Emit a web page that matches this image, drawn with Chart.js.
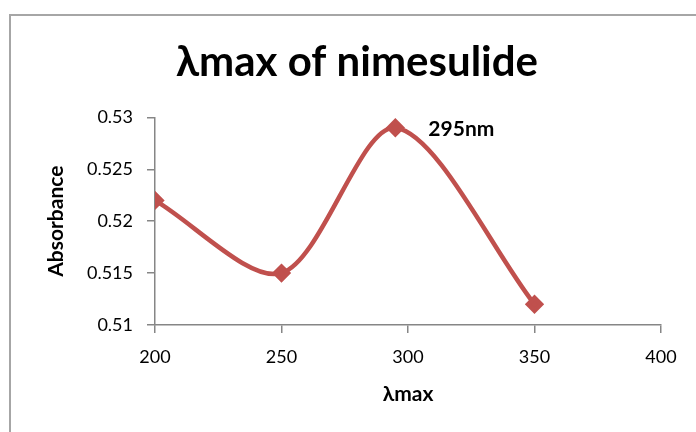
<!DOCTYPE html>
<html>
<head>
<meta charset="utf-8">
<script src="https://cdn.jsdelivr.net/npm/chart.js@4"></script>
<style>
  html, body { margin: 0; padding: 0; background: #fff; }
  #wrap { width: 696px; height: 432px; }
</style>
</head>
<body>
<div id="wrap"><canvas id="chart" width="696" height="432"></canvas></div>
<script>
// Longueurs d'onde et absorbances mesurées
const wavelengths = [200, 250, 295, 350];
const absorbance = [0.522, 0.515, 0.529, 0.512];
const peakLabel = "295nm";
const yTicks = [0.51, 0.515, 0.52, 0.525, 0.53];
const xTicks = [200, 250, 300, 350, 400];

const lineColor = "#C0504D";
const axisColor = "#868686";
const fontFamily = "Lato, 'Open Sans', 'DejaVu Sans', sans-serif";

// Cadre gris autour du graphique
const framePlugin = {
    id: "frame",
    beforeDraw(chart) {
        const ctx = chart.ctx;
        ctx.save();
        ctx.strokeStyle = "#A6A6A6";
        ctx.lineWidth = 2;
        ctx.beginPath();
        ctx.moveTo(10, chart.height);
        ctx.lineTo(10, 15);
        ctx.lineTo(chart.width, 15);
        ctx.stroke();
        ctx.restore();
    }
};

// Étiquette du maximum d'absorbance
const peakPlugin = {
    id: "peakLabel",
    afterDatasetsDraw(chart) {
        const meta = chart.getDatasetMeta(0);
        const idx = absorbance.indexOf(Math.max(...absorbance));
        const pt = meta.data[idx];
        const ctx = chart.ctx;
        ctx.save();
        ctx.font = "bold 21px " + fontFamily;
        ctx.fillStyle = "#000";
        ctx.textBaseline = "middle";
        ctx.textAlign = "left";
        ctx.fillText(peakLabel, pt.x + 33, pt.y + 1);
        ctx.restore();
    }
};

const ctx = document.getElementById("chart").getContext("2d");
new Chart(ctx, {
    type: "scatter",
    data: {
        datasets: [{
            data: wavelengths.map((w, i) => ({ x: w, y: absorbance[i] })),
            showLine: true,
            borderColor: lineColor,
            backgroundColor: lineColor,
            borderWidth: 4.5,
            tension: 0.3,
            pointStyle: "rectRot",
            pointRadius: 6.5,
            pointHoverRadius: 6.5
        }]
    },
    options: {
        responsive: false,
        animation: false,
        layout: { padding: { left: 18, right: 0, top: 0, bottom: 0 } },
        plugins: {
            legend: { display: false },
            tooltip: { enabled: false },
            title: {
                display: true,
                text: "λmax of nimesulide",
                color: "#000",
                font: { family: fontFamily, size: 42, weight: "bold" },
                padding: { top: 37, bottom: 30 }
            }
        },
        scales: {
            x: {
                type: "linear",
                min: 200,
                max: 400,
                afterBuildTicks: axis => { axis.ticks = xTicks.map(v => ({ value: v })); },
                afterFit: axis => { axis.height = 107; },
                grid: { drawOnChartArea: false, drawTicks: true, tickLength: 8, color: axisColor, lineWidth: 1.5 },
                border: { color: axisColor, width: 1.5 },
                ticks: { color: "#000", font: { family: fontFamily, size: 18 }, padding: 13 },
                title: {
                    display: true,
                    text: "λmax",
                    color: "#000",
                    font: { family: fontFamily, size: 21, weight: "bold" },
                    padding: { top: 0, bottom: 25 }
                }
            },
            y: {
                type: "linear",
                min: 0.51,
                max: 0.53,
                afterBuildTicks: axis => { axis.ticks = yTicks.map(v => ({ value: v })); },
                afterFit: axis => { axis.width = 137; },
                grid: { drawOnChartArea: false, drawTicks: true, tickLength: 8, color: axisColor, lineWidth: 1.5 },
                border: { color: axisColor, width: 1.5 },
                ticks: {
                    color: "#000",
                    font: { family: fontFamily, size: 18 },
                    padding: 14,
                    callback: v => String(parseFloat(v.toFixed(3)))
                },
                title: {
                    display: true,
                    text: "Absorbance",
                    color: "#000",
                    font: { family: fontFamily, size: 21, weight: "bold" },
                    padding: { top: 26, bottom: 0 }
                }
            },
            // marge droite vide
            yRight: {
                position: "right",
                afterFit: axis => { axis.width = 35; },
                grid: { display: false },
                border: { display: false },
                ticks: { display: false }
            }
        }
    },
    plugins: [framePlugin, peakPlugin]
});
</script>
</body>
</html>
